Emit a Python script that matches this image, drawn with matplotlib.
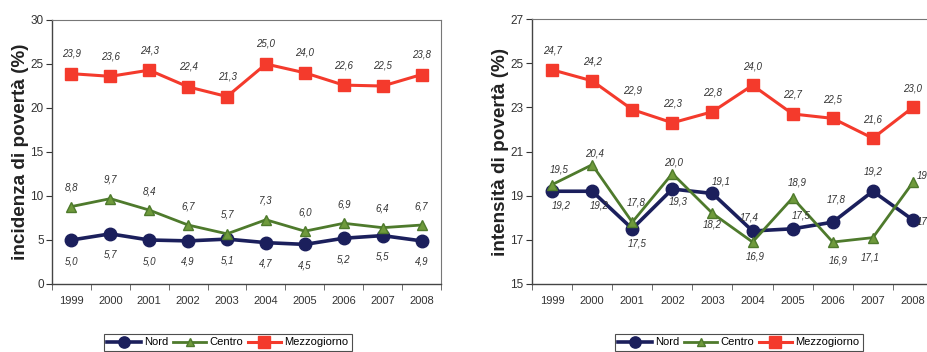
import matplotlib.pyplot as plt
import numpy as np

plt.rcParams['font.family'] = ['Liberation Sans', 'DejaVu Sans']

years = ['1999', '2000', '2001', '2002', '2003', '2004', '2005', '2006', '2007', '2008']

# incidenza di povertà (%)
inc_nord = [5.0, 5.7, 5.0, 4.9, 5.1, 4.7, 4.5, 5.2, 5.5, 4.9]
inc_centro = [8.8, 9.7, 8.4, 6.7, 5.7, 7.3, 6.0, 6.9, 6.4, 6.7]
inc_sud = [23.9, 23.6, 24.3, 22.4, 21.3, 25.0, 24.0, 22.6, 22.5, 23.8]

# intensità di povertà (%)
int_nord = [19.2, 19.2, 17.5, 19.3, 19.1, 17.4, 17.5, 17.8, 19.2, 17.9]
int_centro = [19.5, 20.4, 17.8, 20.0, 18.2, 16.9, 18.9, 16.9, 17.1, 19.6]
int_sud = [24.7, 24.2, 22.9, 22.3, 22.8, 24.0, 22.7, 22.5, 21.6, 23.0]

# posizione delle etichette (offset in pixel rispetto al punto)
up, down = (0, 20), (0, -21)
inc_nord_pos = [down] * 10
inc_centro_pos = [(0, 19)] * 10
inc_sud_pos = [up] * 10
int_nord_pos = [(9, -14), (7, -14), (5, -15), (6, -12), (9, 12), (-3, 14),
                (9, 13), (3, 23), (0, 20), (13, -2)]
int_centro_pos = [(7, 15), (2, 11), (4, 20), (1, 11), (0, -11), (3, -14),
                  (5, 15), (5, -18), (-3, -20), (13, 7)]
int_sud_pos = [(0, 19)] * 10

C_NORD = '#1b1f5c'
C_CENTRO = '#4e7a2c'
C_SUD = '#f43a2c'


def draw_panel(ax, nord, centro, sud, pos_n, pos_c, pos_s, ylim, yticks, ylabel):
    x = np.arange(len(years))
    ax.plot(x, nord, color=C_NORD, lw=2.6, marker='o', ms=9, label='Nord', zorder=3)
    ax.plot(x, centro, color=C_CENTRO, lw=2.0, marker='^', ms=7,
            mfc='#6f9a3c', mec=C_CENTRO, label='Centro', zorder=4)
    ax.plot(x, sud, color=C_SUD, lw=2.2, marker='s', ms=9, label='Mezzogiorno', zorder=3)
    for vals, pos in ((nord, pos_n), (centro, pos_c), (sud, pos_s)):
        for xi, v, off in zip(x, vals, pos):
            ax.annotate(f'{v:.1f}'.replace('.', ','), (xi, v),
                        xytext=(off[0] * 0.72, off[1] * 0.72),
                        textcoords='offset points', ha='center', va='center',
                        fontsize=7, color='#333333', style='italic', zorder=5)
    ax.set_xlim(-0.5, len(years) - 0.5)
    ax.set_ylim(*ylim)
    ax.set_yticks(yticks)
    ax.set_xticks(x)
    ax.set_xticklabels(years)
    ax.set_xticks(np.arange(-0.5, len(years)), minor=True)
    ax.tick_params(axis='x', which='major', length=0, pad=9, labelsize=8, colors='#333333')
    ax.tick_params(axis='x', which='minor', length=4, direction='out', color='#555555')
    ax.tick_params(axis='y', length=4, direction='out', pad=2, labelsize=8.5, colors='#333333')
    for s in ('top', 'right'):
        ax.spines[s].set_color('#777777')
        ax.spines[s].set_linewidth(0.8)
    for s in ('left', 'bottom'):
        ax.spines[s].set_color('#444444')
        ax.spines[s].set_linewidth(1.0)
    ax.set_ylabel(ylabel, fontsize=13.6, fontweight='bold', color='#222222', labelpad=1)


fig = plt.figure(figsize=(9.28, 3.52), dpi=100)
H = 352.0
W = 928.0
ax1 = fig.add_axes([52 / W, 68 / H, 389 / W, 264 / H])
ax2 = fig.add_axes([532 / W, 68 / H, 401 / W, 265 / H])

draw_panel(ax1, inc_nord, inc_centro, inc_sud, inc_nord_pos, inc_centro_pos, inc_sud_pos,
           (0, 30), range(0, 31, 5), 'incidenza di povertà (%)')
draw_panel(ax2, int_nord, int_centro, int_sud, int_nord_pos, int_centro_pos, int_sud_pos,
           (15, 27), range(15, 28, 2), 'intensità di povertà (%)')

for ax, cx in ((ax1, 228 / W), (ax2, 739 / W)):
    h, l = ax.get_legend_handles_labels()
    leg = fig.legend(h, l, loc='upper center', bbox_to_anchor=(cx, 1 - 328 / H), ncol=3,
                     fontsize=8, frameon=True, fancybox=False, handlelength=3,
                     handletextpad=0.3, columnspacing=0.4, borderpad=0.35, markerscale=0.9)
    leg.get_frame().set_edgecolor('#222222')
    leg.get_frame().set_linewidth(0.8)

fig.savefig('out.png', dpi=100)
